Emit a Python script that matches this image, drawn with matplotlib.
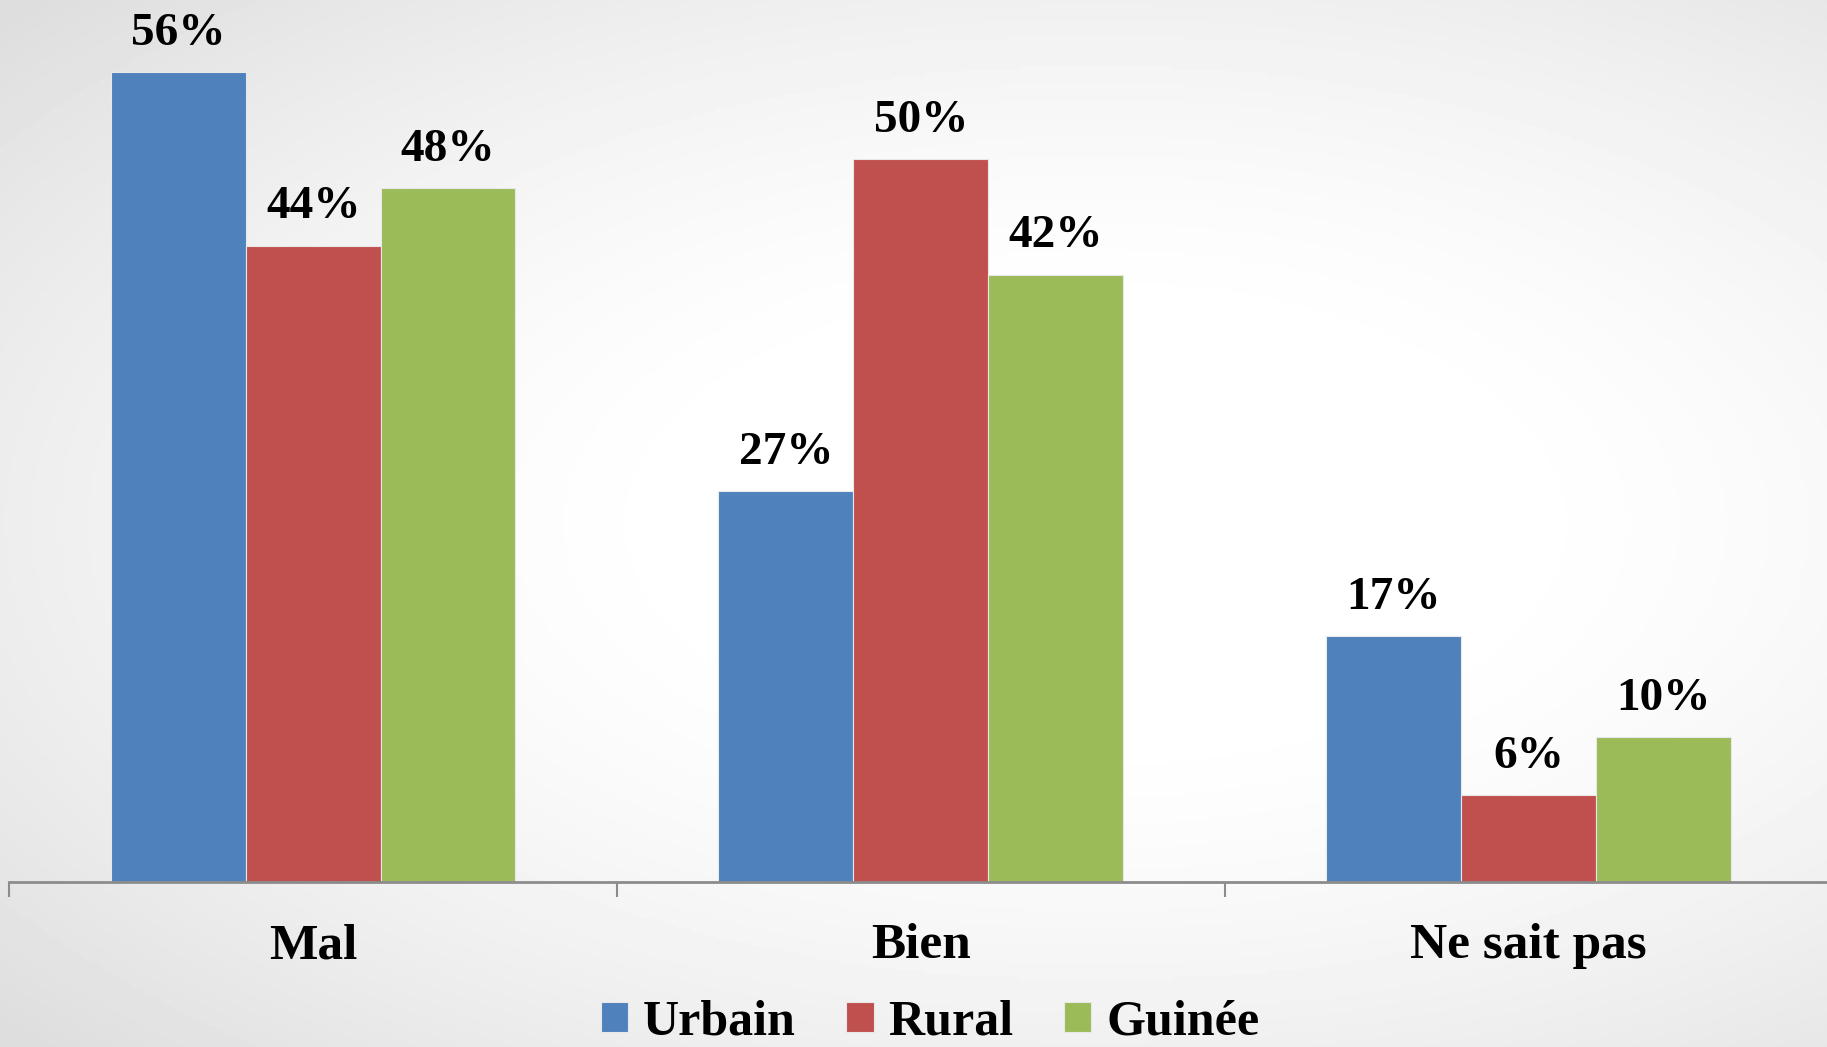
import numpy as np
import matplotlib.pyplot as plt

categories = ["Mal", "Bien", "Ne sait pas"]
series = ["Urbain", "Rural", "Guinée"]
urbain = [56, 27, 17]
rural = [44, 50, 6]
guinee = [48, 42, 10]
colors = ["#4F81BD", "#C0504D", "#9BBB59"]

plt.rcParams["font.family"] = ["Liberation Serif", "DejaVu Serif"]
plt.rcParams["font.weight"] = "bold"

fig = plt.figure(figsize=(18.27, 10.47), dpi=100)

# fond en dégradé radial
bg = fig.add_axes([0, 0, 1, 1], zorder=-10)
yy, xx = np.mgrid[0:1:300j, 0:1:500j]
r = np.sqrt(((xx - 0.6) / 1.0) ** 2 + ((yy - 0.5) / 0.9) ** 2)
shade = 1.0 - 0.13 * np.clip((r - 0.2) / 0.6, 0, 1) ** 1.5
bg.imshow(shade, cmap="gray", vmin=0, vmax=1, aspect="auto", extent=[0, 1, 0, 1])
bg.axis("off")

ax = fig.add_axes([0.0051, 0.158, 0.9978, 0.842])
ax.patch.set_alpha(0)

x = np.arange(len(categories))
w = 0.222
for i, (vals, name) in enumerate(zip([urbain, rural, guinee], series)):
    bars = ax.bar(x + (i - 1) * w, vals, w, color=colors[i], label=name,
                  edgecolor="#e8e8e8", linewidth=0.8)
    for b, v in zip(bars, vals):
        ax.text(b.get_x() + b.get_width() / 2, v + 1.2, f"{v}%",
                ha="center", va="bottom", fontsize=34, fontweight="bold")

ax.set_xlim(-0.5, 2.5)
ax.set_ylim(0, 61)
ax.set_yticks([])
for s in ["top", "right", "left"]:
    ax.spines[s].set_visible(False)
ax.spines["bottom"].set_color("#8c8c8c")
ax.spines["bottom"].set_linewidth(2)

ax.set_xticks(x)
ax.set_xticklabels(categories, fontsize=37, fontweight="bold")
ax.tick_params(axis="x", which="major", length=0, pad=30)
ax.set_xticks([-0.5, 0.5, 1.5, 2.5], minor=True)
ax.tick_params(axis="x", which="minor", length=11, width=1.5, color="#8c8c8c", direction="out")

fig.legend(loc="lower center", bbox_to_anchor=(0.509, -0.027), ncol=3, frameon=False,
           handlelength=0.55, handleheight=0.55, handletextpad=0.3,
           columnspacing=1.0, borderpad=0.1, prop={"size": 36, "weight": "bold"})

fig.savefig("out.png", dpi=100)
